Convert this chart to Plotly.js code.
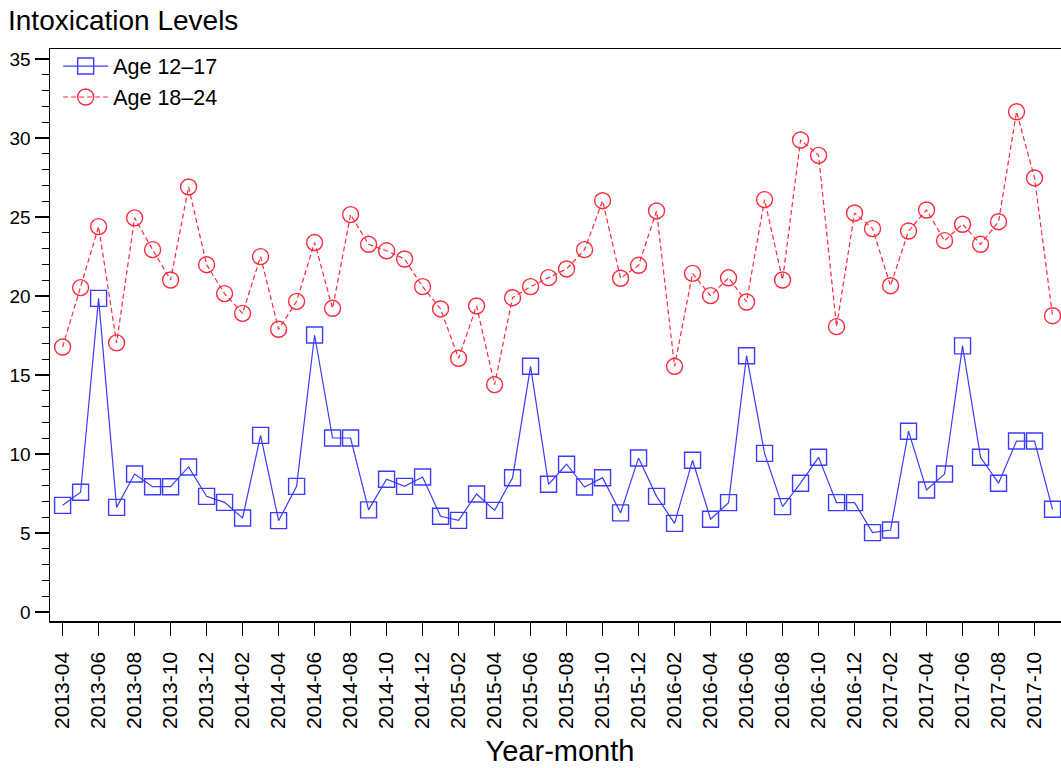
<!DOCTYPE html>
<html>
<head>
<meta charset="utf-8">
<script src="https://cdn.plot.ly/plotly-3.0.1.min.js"></script>
<style>
html, body { margin: 0; padding: 0; overflow: hidden; background: #fff; }
#chart { width: 1075px; height: 768px; }
</style>
</head>
<body>
<div id="chart"></div>
<script>
const months = [
  '2013-04','2013-05','2013-06','2013-07','2013-08','2013-09','2013-10','2013-11','2013-12',
  '2014-01','2014-02','2014-03','2014-04','2014-05','2014-06','2014-07','2014-08','2014-09','2014-10','2014-11','2014-12',
  '2015-01','2015-02','2015-03','2015-04','2015-05','2015-06','2015-07','2015-08','2015-09','2015-10','2015-11','2015-12',
  '2016-01','2016-02','2016-03','2016-04','2016-05','2016-06','2016-07','2016-08','2016-09','2016-10','2016-11','2016-12',
  '2017-01','2017-02','2017-03','2017-04','2017-05','2017-06','2017-07','2017-08','2017-09','2017-10','2017-11'
];
const age1217 = [
  6.75,7.58,19.85,6.62,8.73,7.93,7.93,9.18,7.32,
  6.94,5.95,11.18,5.78,7.95,17.53,11.01,11.01,6.46,8.4,7.95,8.54,
  6.06,5.8,7.47,6.43,8.5,15.55,8.08,9.35,7.91,8.5,6.27,9.75,
  7.32,5.61,9.6,5.87,6.92,16.22,10.04,6.67,8.15,9.79,6.92,6.92,
  5.02,5.19,11.44,7.72,8.73,16.84,9.79,8.15,10.82,10.82,6.5
];
const age1824 = [
  16.77,20.53,24.39,17.03,24.94,22.93,21.01,26.9,21.98,
  20.15,18.9,22.49,17.89,19.66,23.38,19.22,25.15,23.27,22.86,22.34,20.59,
  19.18,16.06,19.37,14.39,19.89,20.59,21.16,21.71,22.93,26.03,21.12,21.94,
  25.38,15.55,21.43,20.02,21.15,19.62,26.1,21.01,29.87,28.9,18.06,25.25,
  24.26,20.65,24.11,25.44,23.5,24.54,23.27,24.7,31.66,27.47,18.75
];
const tickLabels = [
  '2013-04','2013-06','2013-08','2013-10','2013-12','2014-02','2014-04','2014-06','2014-08','2014-10','2014-12',
  '2015-02','2015-04','2015-06','2015-08','2015-10','2015-12','2016-02','2016-04','2016-06','2016-08','2016-10','2016-12',
  '2017-02','2017-04','2017-06','2017-08','2017-10'
];
const seriesNames = ['Age 12\u201317', 'Age 18\u201324'];
const yTicks = [0,5,10,15,20,25,30,35];

const blue = '#3c3cff';
const red = '#ff2a3c';

const traces = [
  {
    x: months, y: age1217, name: seriesNames[0], type: 'scatter', mode: 'lines+markers',
    line: {color: blue, width: 1.2},
    marker: {symbol: 'square-open', size: 16, color: blue, line: {width: 1.4, color: blue}}
  },
  {
    x: months, y: age1824, name: seriesNames[1], type: 'scatter', mode: 'lines+markers',
    line: {color: red, width: 1.2, dash: '5px,3px'},
    marker: {symbol: 'circle-open', size: 16, color: red, line: {width: 1.4, color: red}}
  }
];

const layout = {
  width: 1075, height: 768,
  margin: {l: 50, r: 5, t: 49, b: 147},
  paper_bgcolor: '#fff', plot_bgcolor: '#fff',
  font: {family: '"Liberation Sans", Arial, sans-serif', color: '#000'},
  title: {
    text: 'Intoxication Levels', font: {size: 28, color: '#000'},
    x: 8/1075, xanchor: 'left', xref: 'container',
    y: 1 - 20/768, yanchor: 'middle', yref: 'container'
  },
  showlegend: true,
  legend: {
    x: 0.008, y: 1.006, xanchor: 'left', yanchor: 'top',
    bgcolor: 'rgba(0,0,0,0)', borderwidth: 0,
    font: {size: 21.5, color: '#000'}, itemwidth: 45, tracegroupgap: 0
  },
  xaxis: {
    type: 'category',
    range: [-0.7, 55.97],
    tickmode: 'array', tickvals: tickLabels, ticktext: tickLabels,
    tickangle: -90, tickfont: {size: 21, color: '#000'},
    ticks: 'outside', ticklen: 13, tickwidth: 1.5, tickcolor: '#000',
    ticklabelstandoff: 8,
    showline: true, linecolor: '#000', linewidth: 1.5, mirror: true,
    showgrid: false, zeroline: false,
    title: {text: 'Year-month', font: {size: 29, color: '#000'}, standoff: 12}
  },
  yaxis: {
    range: [-0.57, 35.63],
    tickmode: 'array', tickvals: yTicks,
    tickfont: {size: 19, color: '#000'},
    ticks: 'outside', ticklen: 14, tickwidth: 1.5, tickcolor: '#000',
    minor: {dtick: 1, ticks: 'outside', ticklen: 7, tickwidth: 1.2, tickcolor: '#000', showgrid: false},
    showline: true, linecolor: '#000', linewidth: 1.5, mirror: true,
    showgrid: false, zeroline: false
  }
};

Plotly.newPlot('chart', traces, layout, {displayModeBar: false, staticPlot: true});
</script>
</body>
</html>
